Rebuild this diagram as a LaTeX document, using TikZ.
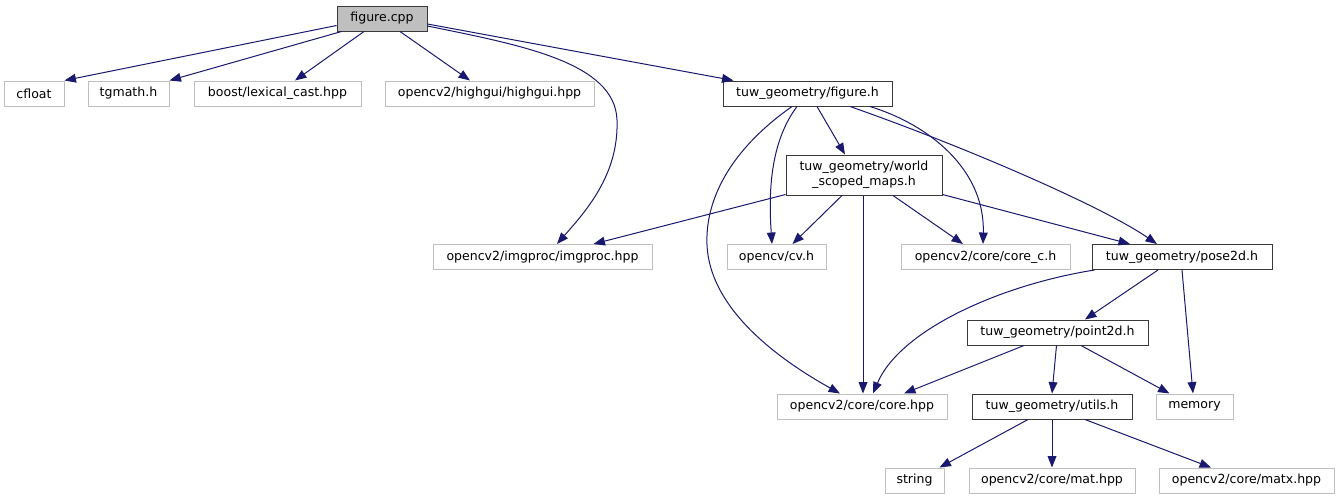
\documentclass[tikz,border=0pt]{standalone}
\usepackage{fontspec}
\newfontfamily\dvs{DejaVu Sans}
\usetikzlibrary{arrows.meta,calc}
\definecolor{eblue}{HTML}{191970}
\definecolor{lightbox}{HTML}{BFBFBF}
\definecolor{darkbox}{HTML}{3A3A3A}
\definecolor{fillgray}{HTML}{BFBFBF}
\tikzset{
  wh/.style 2 args={minimum width=#1*0.75pt, minimum height=#2*0.75pt},
  inc/.style={draw=lightbox, line width=0.75pt, inner sep=0pt,
    font=\dvs\fontsize{9.4pt}{11.2pt}\selectfont, text=black},
  doc/.style={inc, draw=darkbox},
  dep/.style={draw=eblue, line width=0.75pt,
    -{Triangle[length=8.6pt,width=6.6pt]}, eblue}
}
\begin{document}
\begin{tikzpicture}[x=0.75pt,y=-0.75pt]
\useasboundingbox (0,0) rectangle (1339,500);
% nodes
\node[doc, fill=fillgray, wh={90}{25}] (fcpp) at (382,18.5) {figure.cpp};
\node[inc, wh={60}{25}] (cfloat) at (34,93.5) {cfloat};
\node[inc, wh={81}{25}] (tgmath) at (128.5,93.5) {tgmath.h};
\node[inc, wh={167}{25}] (boost) at (277.5,93.5) {boost/lexical\_cast.hpp};
\node[inc, wh={209}{25}] (highgui) at (489.5,93.5) {opencv2/highgui/highgui.hpp};
\node[doc, wh={169}{25}] (figh) at (807.5,93.5) {tuw\_geometry/figure.h};
\node[doc, wh={156}{40}, align=center] (wsm) at (864,175) {tuw\_geometry/world\\\_scoped\_maps.h};
\node[inc, wh={219}{25}] (imgproc) at (542.5,257) {opencv2/imgproc/imgproc.hpp};
\node[inc, wh={99}{25}] (cvh) at (776.5,257) {opencv/cv.h};
\node[inc, wh={169}{25}] (corec) at (985.5,257) {opencv2/core/core\_c.h};
\node[doc, wh={180}{25}] (pose2d) at (1182,257) {tuw\_geometry/pose2d.h};
\node[doc, wh={181}{25}] (point2d) at (1057.5,332.5) {tuw\_geometry/point2d.h};
\node[inc, wh={170}{25}] (corehpp) at (862,406.5) {opencv2/core/core.hpp};
\node[doc, wh={160}{25}] (utils) at (1052,406.5) {tuw\_geometry/utils.h};
\node[inc, wh={77}{25}] (memory) at (1194.5,406.5) {memory};
\node[inc, wh={59}{25}] (string) at (914.5,480.5) {string};
\node[inc, wh={166}{25}] (mat) at (1052,480.5) {opencv2/core/mat.hpp};
\node[inc, wh={175}{25}] (matx) at (1246.5,480.5) {opencv2/core/matx.hpp};
% edges from figure.cpp
\draw[dep] ($(fcpp.west)+(0,7)$) -- (cfloat.north east);
\draw[dep] ($(fcpp.south west)+(5,0)$) -- (tgmath.north east);
\draw[dep] ($(fcpp.south)+(-18,0)$) -- ($(boost.north)+(17.5,0)$);
\draw[dep] ($(fcpp.south)+(18,0)$) -- ($(highgui.north)+(-19.5,0)$);
\draw[dep] ($(fcpp.east)+(0,5.5)$) -- ($(figh.north west)+(11,0)$);
\draw[dep] ($(fcpp.east)+(0,7.5)$) .. controls (520,45) and (615,62) .. (617,120)
  .. controls (619,175) and (585,212) .. ($(imgproc.north)+(14.5,0)$);
% edges from figure.h
\draw[dep] ($(figh.south)+(9.5,0)$) -- ($(wsm.north)+(-19,0)$);
\draw[dep] ($(figh.south)+(-10.5,0)$) .. controls (768,145) and (769,200) .. ($(cvh.north)+(-4.5,0)$);
\draw[dep] ($(figh.south)+(-15.5,0)$) .. controls (730,150) and (705,200) .. (707,245)
  .. controls (710,310) and (780,360) .. ($(corehpp.north)+(-22,0)$);
\draw[dep] ($(figh.south)+(62.5,0)$) .. controls (930,125) and (985,170) .. ($(corec.north)+(-2.5,0)$);
\draw[dep] ($(figh.south)+(42.5,0)$) .. controls (960,145) and (1100,205) .. ($(pose2d.north)+(-25,0)$);
% edges from world_scoped_maps.h
\draw[dep] ($(wsm.south west)+(0,-1)$) -- ($(imgproc.north)+(51,0)$);
\draw[dep] ($(wsm.south)+(-22,0)$) -- ($(cvh.north)+(16,0)$);
\draw[dep] ($(wsm.south)+(-1,0)$) -- ($(corehpp.north)+(1,0)$);
\draw[dep] ($(wsm.south)+(29,0)$) -- ($(corec.north)+(-22.5,0)$);
\draw[dep] ($(wsm.south east)+(0,-1)$) -- ($(pose2d.north)+(-52,0)$);
% edges from pose2d.h
\draw[dep] ($(pose2d.south west)+(3,0)$) .. controls (1000,285) and (900,330) .. ($(corehpp.north)+(11,0)$);
\draw[dep] ($(pose2d.south)+(-24,0)$) -- ($(point2d.north)+(27.5,0)$);
\draw[dep] (pose2d.south) -- ($(memory.north)+(-1.5,0)$);
% edges from point2d.h
\draw[dep] ($(point2d.south)+(-33.5,0)$) -- ($(corehpp.north)+(42,0)$);
\draw[dep] ($(point2d.south)+(-1,0)$) -- ($(utils.north)+(0,0)$);
\draw[dep] ($(point2d.south)+(23.5,0)$) -- ($(memory.north)+(-25,0)$);
% edges from utils.h
\draw[dep] ($(utils.south)+(-24,0)$) -- ($(string.north)+(25,0)$);
\draw[dep] (utils.south) -- (mat.north);
\draw[dep] ($(utils.south)+(33,0)$) -- ($(matx.north)+(-35.5,0)$);
\end{tikzpicture}
\end{document}
